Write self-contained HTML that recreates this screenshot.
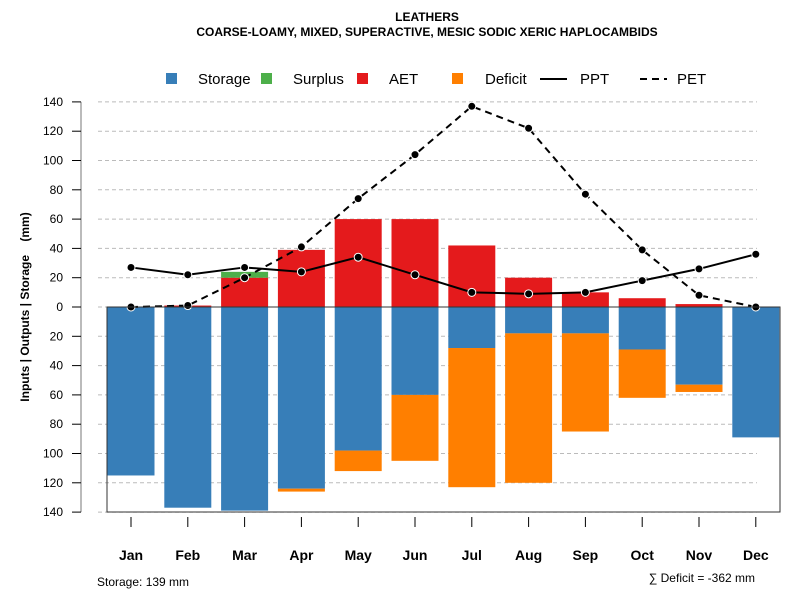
<!DOCTYPE html>
<html><head><meta charset="utf-8"><style>
body{margin:0;background:#fff}
svg text{font-family:"Liberation Sans",Arial,sans-serif}
</style></head><body>
<svg id="chart" width="800" height="600" xmlns="http://www.w3.org/2000/svg">
<text x="427" y="21" text-anchor="middle" font-size="12" font-weight="bold">LEATHERS</text>
<text x="427" y="36" text-anchor="middle" font-size="12" font-weight="bold">COARSE-LOAMY, MIXED, SUPERACTIVE, MESIC SODIC XERIC HAPLOCAMBIDS</text>
<g id="legend" font-size="15">
<rect x="166" y="73" width="11" height="11" fill="#377EB8"/><text x="198" y="84">Storage</text>
<rect x="261" y="73" width="11" height="11" fill="#4DAF4A"/><text x="293" y="84">Surplus</text>
<rect x="357" y="73" width="11" height="11" fill="#E41A1C"/><text x="389" y="84">AET</text>
<rect x="452" y="73" width="11" height="11" fill="#FF7F00"/><text x="485" y="84">Deficit</text>
<line x1="540" y1="79" x2="567" y2="79" stroke="#000" stroke-width="2"/><text x="580" y="84">PPT</text>
<line x1="640" y1="79" x2="667" y2="79" stroke="#000" stroke-width="2" stroke-dasharray="7,5"/><text x="677" y="84">PET</text>
</g>
<g id="grid"></g><g id="bars"></g><g id="lines"></g><g id="axes"></g>
<text transform="translate(29,307) rotate(-90)" text-anchor="middle" font-size="12" font-weight="bold" style="white-space:pre" xml:space="preserve">Inputs | Outputs | Storage    (mm)</text>
<text x="97" y="586" font-size="12">Storage: 139 mm</text>
<text x="755" y="582" text-anchor="end" font-size="12">∑ Deficit = -362 mm</text>
</svg>
<script>
const months=["Jan","Feb","Mar","Apr","May","Jun","Jul","Aug","Sep","Oct","Nov","Dec"];
const storage=[115,137,139,124,98,60,28,18,18,29,53,89];
const deficit=[0,0,0,2,14,45,95,102,67,33,5,0];
const aet=[0,1,20,39,60,60,42,20,10,6,2,0];
const surplus=[0,0,4,0,0,0,0,0,0,0,0,0];
const ppt=[27,22,27,24,34,22,10,9,10,18,26,36];
const pet=[0,1,20,41,74,104,137,122,77,39,8,0];
const yTicks=[140,120,100,80,60,40,20,0,20,40,60,80,100,120,140];
const ns="http://www.w3.org/2000/svg";
const y=v=>307-v*1.465;
const x=i=>131+i*56.8;
const bw=47;
function mk(p,t,a){const e=document.createElementNS(ns,t);for(const k in a)e.setAttribute(k,a[k]);document.getElementById(p).appendChild(e);return e;}
const ax=mk("axes","line",{x1:81,x2:81,y1:y(140),y2:y(-140),stroke:"#777"});


yTicks.forEach((t,i)=>{const v=140-i*20;
 const g=mk("grid","line",{x1:98,x2:757,y1:y(v),y2:y(v),stroke:"#bbb","stroke-dasharray":"4,3"});
 
 
 const tk=mk("axes","line",{x1:72,x2:81,y1:y(v),y2:y(v),stroke:"#000"});
 
 
 const l=mk("axes","text",{x:63,y:y(v)+4,"text-anchor":"end","font-size":"12"});l.textContent=t;
 
 
});
months.forEach((m,i)=>{
 const bx=x(i)-bw/2;
 const s=mk("bars","rect",{x:bx,y:y(0),width:bw,height:storage[i]*1.465,fill:"#377EB8"});
 
 
 const d=mk("bars","rect",{x:bx,y:y(-storage[i]),width:bw,height:deficit[i]*1.465,fill:"#FF7F00"});
 
 
 const a=mk("bars","rect",{x:bx,y:y(aet[i]),width:bw,height:aet[i]*1.465,fill:"#E41A1C"});
 
 
 const su=mk("bars","rect",{x:bx,y:y(aet[i]+surplus[i]),width:bw,height:surplus[i]*1.465,fill:"#4DAF4A"});
 
 
 const tk=mk("axes","line",{x1:x(i),x2:x(i),y1:517,y2:527,stroke:"#000"});
 
 
 const l=mk("axes","text",{x:x(i),y:560,"text-anchor":"middle","font-size":"14","font-weight":"bold"});l.textContent=m;
 
 
});
const zl=mk("bars","line",{x1:107,x2:780,y1:307,y2:307,stroke:"#000"});


const box=mk("axes","rect",{x:107,y:307,width:673,height:205,fill:"none",stroke:"#333"});


[[pet,"7,5","pet"],[ppt,null,"ppt"]].forEach(([arr,da,n])=>{
 const at={points:arr.map((v,i)=>x(i)+","+y(v)).join(" "),fill:"none",stroke:"#000","stroke-width":2};
 if(da)at["stroke-dasharray"]=da;
 const p=mk("lines","polyline",at);
 
 
 arr.forEach((v,i)=>{const c=mk("lines","circle",{cx:x(i),cy:y(v),r:4,fill:"#000",stroke:"#fff","stroke-width":1});
 
 });
});
</script>
</body></html>
